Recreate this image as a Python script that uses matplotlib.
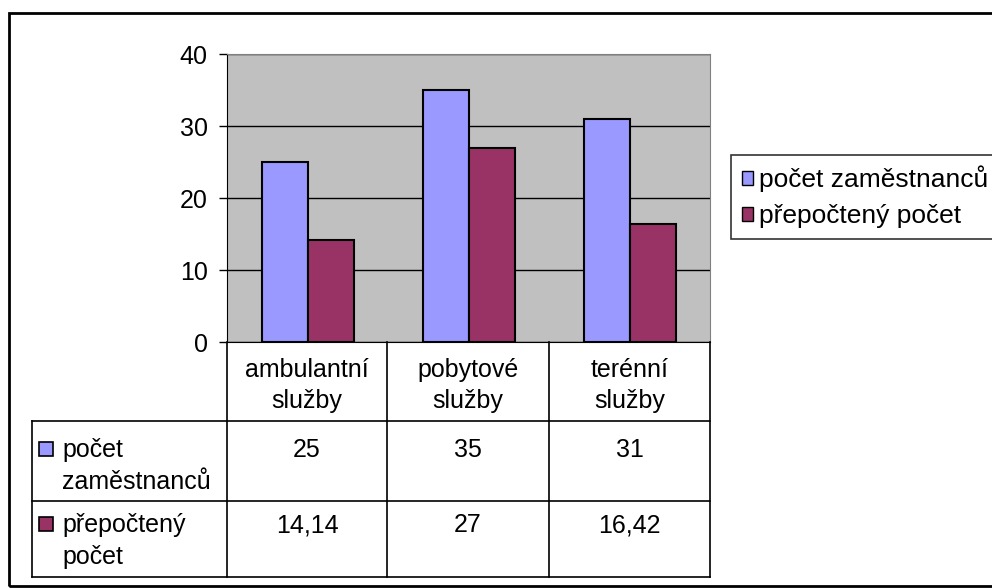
import matplotlib.pyplot as plt
from matplotlib.patches import Rectangle
from matplotlib.lines import Line2D
import numpy as np

plt.rcParams['font.family'] = ['Liberation Sans', 'DejaVu Sans']

categories = ['ambulantní\nslužby', 'pobytové\nslužby', 'terénní\nslužby']
series_names = ['počet zaměstnanců', 'přepočtený počet']
row_labels = ['počet\nzaměstnanců', 'přepočtený\npočet']
employees = [25, 35, 31]
recalculated = [14.14, 27, 16.42]
colors = ['#9999FF', '#993366']

W, H = 992, 588
fig = plt.figure(figsize=(W / 100, H / 100), dpi=100)


def fx(x):
    return x / W


def fy(y):
    return 1 - y / H


fs = 18

# outer frame
fig.add_artist(Rectangle((fx(9), fy(586)), fx(1000) - fx(9), fy(13) - fy(586),
                         transform=fig.transFigure, fill=False, edgecolor='black', lw=2))

# plot area
px0, px1, py0, py1 = 227, 710, 54, 342
ax = fig.add_axes([fx(px0), fy(py1), fx(px1) - fx(px0), fy(py0) - fy(py1)])
ax.set_facecolor('#C0C0C0')
x = np.arange(len(categories))
width = 1 / 3.5
ax.bar(x - width / 2, employees, width, color=colors[0], edgecolor='black', lw=1.5, zorder=3)
ax.bar(x + width / 2, recalculated, width, color=colors[1], edgecolor='black', lw=1.5, zorder=3)
ax.set_xlim(-0.5, 2.5)
ax.set_ylim(0, 40)
ax.set_yticks([0, 10, 20, 30, 40])
ax.yaxis.grid(True, color='black', lw=1, zorder=1)
ax.set_axisbelow(True)
ax.set_xticks([])
ax.tick_params(axis='y', labelsize=fs, length=6, width=1, pad=8)
for s in ['top', 'right']:
    ax.spines[s].set_color('#808080')
ax.spines['left'].set_color('black')
ax.spines['bottom'].set_color('black')

# data table
cols = [px0, 387, 549, px1]
rows = [py1, 421, 501, 577]
tx0 = 32


def line(x0, y0, x1, y1):
    fig.add_artist(Line2D([fx(x0), fx(x1)], [fy(y0), fy(y1)], transform=fig.transFigure,
                          color='black', lw=1.2))


for c in cols:
    line(c, rows[0], c, rows[-1])
line(tx0, rows[1], tx0, rows[-1])
for r in rows[1:]:
    line(tx0, r, px1, r)

for i, cat in enumerate(categories):
    cx = (cols[i] + cols[i + 1]) / 2
    for k, part in enumerate(cat.split('\n')):
        fig.text(fx(cx), fy(377 + 31 * k), part, ha='center', va='baseline', fontsize=fs)

row_base = [457, 532]
for j, (lab, vals) in enumerate(zip(row_labels, [employees, recalculated])):
    b = row_base[j]
    fig.add_artist(Rectangle((fx(39), fy(b - 1)), fx(14), fy(0) - fy(14),
                             transform=fig.transFigure, facecolor=colors[j],
                             edgecolor='black', lw=1.2))
    for k, part in enumerate(lab.split('\n')):
        fig.text(fx(62), fy(b + 32 * k), part, ha='left', va='baseline', fontsize=fs)
    for i, v in enumerate(vals):
        cx = (cols[i] + cols[i + 1]) / 2
        fig.text(fx(cx), fy(b), f"{v:g}".replace('.', ','), ha='center', va='baseline', fontsize=fs)

# legend
handles = [Rectangle((0, 0), 1, 1, facecolor=c, edgecolor='black', lw=1) for c in colors]
leg = fig.legend(handles, series_names, loc='upper left', bbox_to_anchor=(fx(731), fy(155)),
                 frameon=True, fancybox=False, edgecolor='black', fontsize=19,
                 handlelength=0.45, handleheight=0.45, handletextpad=0.2,
                 borderpad=0.4, labelspacing=0.45, borderaxespad=0)
leg.get_frame().set_linewidth(1.2)

plt.savefig('out.png', dpi=100)
